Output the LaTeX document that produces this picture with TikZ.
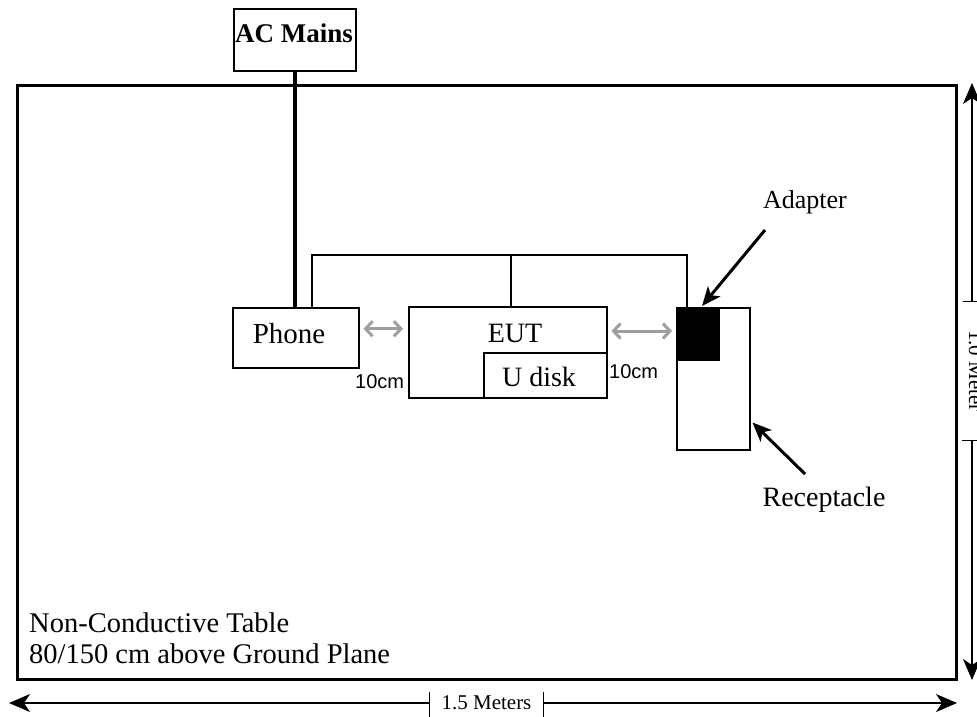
\documentclass[tikz,border=0pt]{standalone}
\usepackage{fontspec}
\setmainfont{Liberation Serif}
\newfontfamily\arialfont{Liberation Sans}
\usetikzlibrary{arrows.meta}
\begin{document}
\begin{tikzpicture}[x=1pt,y=-1pt,
  box/.style={draw,line width=1.5pt,inner sep=0pt,anchor=north west},
  wire/.style={line width=2pt},
  acwire/.style={line width=4pt},
  gapdim/.style={draw=black!38,line width=3pt,{Straight Barb[length=7pt,width=15pt]}-{Straight Barb[length=7pt,width=15pt]}},
  pointer/.style={line width=3pt,-{Stealth[length=19pt,width=16pt,inset=5pt]}},
  dimline/.style={line width=1.3pt,-{Stealth[length=21pt,width=18pt,inset=6pt]}},
  lbl/.style={inner sep=0pt,font=\fontsize{28}{32}\selectfont},
  cmlbl/.style={inner sep=0pt,font=\arialfont\fontsize{20}{24}\selectfont,anchor=base west},
  dimlbl/.style={inner sep=0pt,font=\fontsize{21}{24}\selectfont}
]
\useasboundingbox (0,0) rectangle (977,716);
\clip (0,0) rectangle (977,716);

% table
\node[draw,line width=3pt,inner sep=0pt,minimum width=939pt,minimum height=594pt,anchor=north west] (table) at (16,83.5) {};
\node[lbl,font=\fontsize{28.5}{32}\selectfont,anchor=base west] (tabl1) at (29,632) {Non-Conductive Table};
\node[lbl,font=\fontsize{28.5}{32}\selectfont,anchor=base west] (tabl2) at (29,663) {80/150 cm above Ground Plane};

% AC mains
\node[box,minimum width=122pt,minimum height=62pt] (acmains) at (233,8) {};
\node[inner sep=0pt,font=\fontsize{27}{30}\selectfont\bfseries,anchor=base] (actext) at (294,42) {AC Mains};

% phone
\node[box,minimum width=126pt,minimum height=60pt] (phone) at (232,307) {};
\node[lbl,font=\fontsize{29}{32}\selectfont,anchor=base] (phonetxt) at (289,343) {Phone};

% EUT and U disk
\node[box,minimum width=198pt,minimum height=91pt] (eut) at (408,306) {};
\node[lbl,anchor=base] (euttxt) at (515,342) {EUT};
\node[box,minimum width=123pt,minimum height=45pt] (udisk) at (483,352) {};
\node[lbl,anchor=base] (udisktxt) at (539,386) {U disk};

% receptacle and adapter
\node[box,minimum width=73pt,minimum height=142pt] (recep) at (676,307) {};
\node[fill=black,inner sep=0pt,minimum width=44pt,minimum height=54pt,anchor=north west] (adapter) at (676,307) {};

% wires
\draw[acwire] (acmains.south) -- (acmains.south |- phone.north);
\coordinate (bus1) at (312,255);
\coordinate (bus2) at (511,255);
\coordinate (bus3) at (687,255);
\draw[wire] (bus1 |- phone.north) -- (bus1) -- (bus3) -- (bus3 |- recep.north);
\draw[wire] (bus2) -- (bus2 |- eut.north);

% 10 cm gaps
\draw[gapdim] ([xshift=4pt,yshift=9pt]phone.east) -- ([xshift=-5pt,yshift=9pt]phone.east -| eut.west);
\draw[gapdim] ([xshift=4pt,yshift=-25pt]eut.north east) -- ([xshift=-4pt,yshift=-24pt]recep.north west);
\node[cmlbl] (cm1) at (355,388) {10cm};
\node[cmlbl] (cm2) at (609,378) {10cm};

% pointers
\node[lbl,font=\fontsize{26}{30}\selectfont,anchor=base] (adlbl) at (805,208) {Adapter};
\node[lbl,font=\fontsize{28}{30}\selectfont,anchor=base] (reclbl) at (824,506) {Receptacle};
\coordinate (adtail) at (765,230);
\coordinate (rctail) at (805,474);
\draw[pointer] (adtail) -- ([xshift=26pt,yshift=1pt]adapter.north west);
\draw[pointer] (rctail) -- ([xshift=2pt,yshift=28pt]recep.south east);

% horizontal dimension
\coordinate (hl) at (9,703);
\coordinate (hr) at (957,703);
\node[dimlbl,minimum width=113pt,minimum height=24pt] (hdim) at (486.5,703) {1.5 Meters};
\draw[dimline] (hdim.west) -- (hl);
\draw[dimline] (hdim.east) -- (hr);
\draw[line width=1.3pt] ([yshift=11pt]hdim.west) -- ([yshift=-14pt]hdim.west);
\draw[line width=1.3pt] ([yshift=11pt]hdim.east) -- ([yshift=-14pt]hdim.east);

% vertical dimension
\coordinate (vt) at (972,83);
\coordinate (vb) at (972,680);
\node[dimlbl,rotate=-90,minimum width=138pt] (vdim) at (976,371) {1.0 Meter};
\draw[dimline] (vt |- vdim.west) -- (vt);
\draw[dimline] (vb |- vdim.east) -- (vb);
\draw[line width=1.3pt] ([xshift=-13pt]vdim.west) -- ([xshift=6pt]vdim.west);
\draw[line width=1.3pt] ([xshift=-14pt]vdim.east) -- ([xshift=6pt]vdim.east);
\end{tikzpicture}
\end{document}
